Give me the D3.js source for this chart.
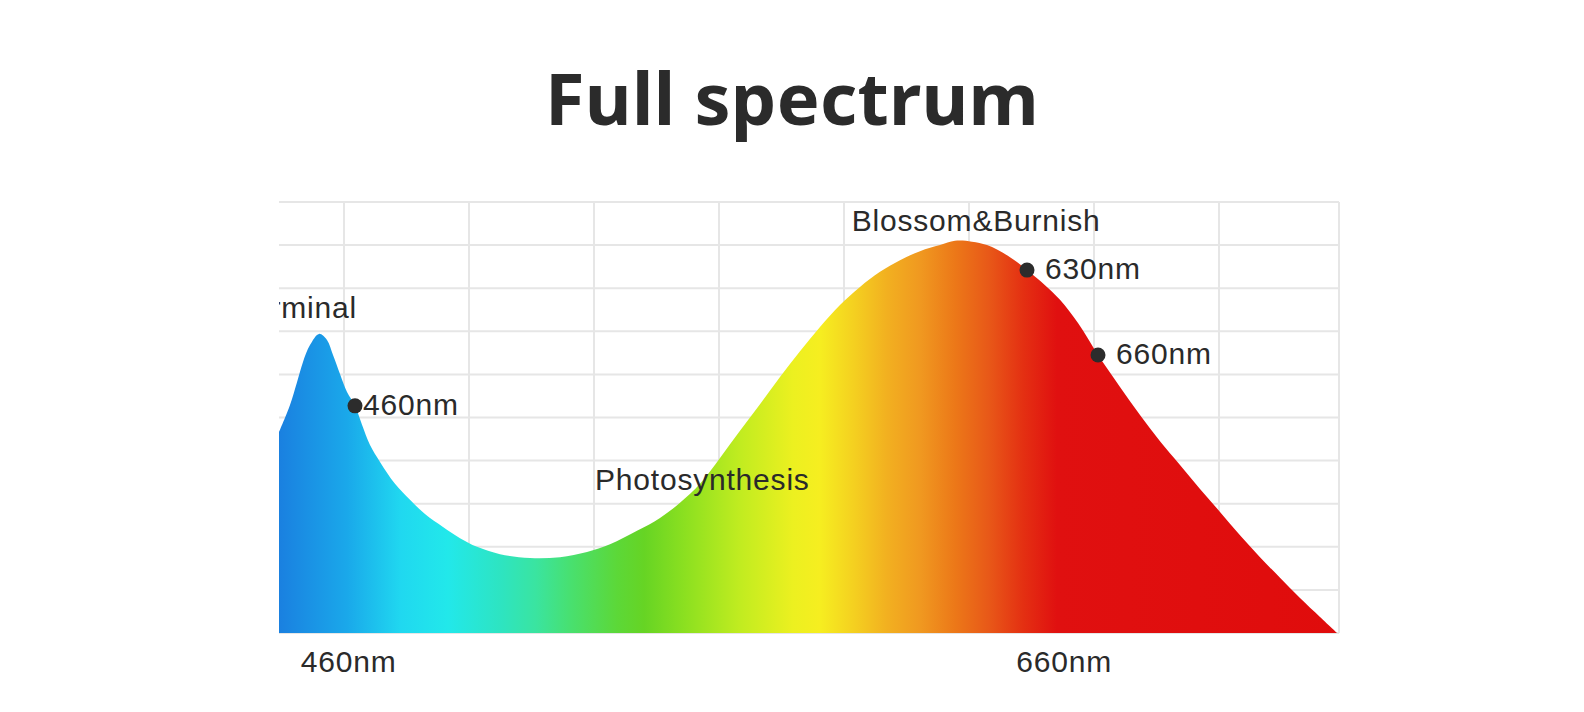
<!DOCTYPE html>
<html>
<head>
<meta charset="utf-8">
<script src="https://cdn.jsdelivr.net/npm/d3@7"></script>
<style>
  html, body { margin: 0; padding: 0; background: #ffffff; }
  svg { display: block; }
</style>
</head>
<body>
<svg id="chart" width="1584" height="712"></svg>
<script>
// ---------------- DATA ----------------
const titleText = "Full spectrum";

// spectrum curve: position along the spectrum axis and relative intensity (0-100)
const xPos = [374, 378.4, 381.2, 383.6, 386.4, 390, 393.2, 395.6, 398.4, 401.2, 404.4, 407.2, 410.4, 414.4,
  420.4, 426.4, 432.4, 439.6, 446.4, 453.2, 462.4, 474.4, 486.4, 497.2, 506.4, 517.2, 526.4, 534.4,
  542.4, 550.4, 558.4, 566.4, 574.4, 582.4, 590.4, 598.4, 606.4, 614.4, 622.4, 630.4, 638.4, 644.4,
  651.2, 657.2, 666.4, 673.2, 680.4, 686.4, 693.6, 701.6, 710.4, 718.4, 726.4, 734.4, 742.4, 750.4,
  758.4, 766.4, 774.4, 782.4, 790.4, 797.2];
const intensity = [46.6, 52.9, 58.2, 62.9, 66.8, 69.4, 68.0, 64.5, 60.1, 55.9, 52.7, 48.3, 43.6, 39.7,
  34.6, 30.9, 27.6, 24.6, 22.0, 20.0, 18.3, 17.4, 17.6, 18.8, 20.6, 23.7, 26.7, 30.2,
  34.6, 40.6, 46.9, 53.1, 59.4, 65.4, 71.0, 76.1, 80.3, 83.8, 86.5, 88.6, 90.0, 91.0,
  90.8, 90.0, 87.2, 84.2, 80.7, 77.3, 71.9, 64.5, 57.1, 50.6, 44.5, 39.0, 33.4, 28.1,
  22.7, 17.6, 12.8, 8.1, 3.7, 0];

// marked points
const markerPos = [404.4, 673.2, 701.6];
const markerVal = [52.7, 84.2, 64.5];
const markerLabels = ["460nm", "630nm", "660nm"];

// region labels
const regionLabels = ["Germinal", "Photosynthesis", "Blossom&Burnish"];
const regionPos = [405.2, 500.4, 603.1];
const regionVal = [73.2, 33.2, 93.3];

// bottom axis labels
const axisLabels = ["460nm", "660nm"];
const axisPos = [382.7, 668.9];

// grid ticks
const xGridTicks = [400, 450, 500, 550, 600, 650, 700, 750, 798];
const yGridTicks = [0, 10, 20, 30, 40, 50, 60, 70, 80, 90, 100];

// colour ramp along the spectrum axis
const rampPos = [374, 401.2, 422.8, 441.6, 463.2, 476.8, 490.4, 509.2, 520, 536.4, 558, 579.6,
  590.4, 604, 617.2, 630.8, 644.4, 658, 671.6, 685.2, 798];
const rampColors = ["#1a80e0", "#1aa8ea", "#20d8f0", "#22e8ea", "#2ee4c0", "#3ae4a0", "#48e070",
  "#5cd838", "#66d424", "#8ce020", "#c0ec20", "#ecf020", "#f6ee20", "#f4d020", "#f2b020", "#f09820",
  "#ec7818", "#e85818", "#e43012", "#e01010", "#e00c0c"];

// ---------------- CHART ----------------
const svg = d3.select("#chart");
const W = 1584, H = 712;
const plot = { left: 279, right: 1339, top: 202, bottom: 633 };

const x = d3.scaleLinear().domain([374, 798]).range([plot.left, plot.right]);
const y = d3.scaleLinear().domain([0, 100]).range([plot.bottom, plot.top]);

const defs = svg.append("defs");
defs.append("clipPath").attr("id", "clipL")
  .append("rect").attr("x", plot.left).attr("y", 0).attr("width", W - plot.left).attr("height", H);

const grad = defs.append("linearGradient")
  .attr("id", "spec").attr("gradientUnits", "userSpaceOnUse")
  .attr("x1", x(374)).attr("x2", x(798)).attr("y1", 0).attr("y2", 0);
rampPos.forEach((p, i) => {
  grad.append("stop")
    .attr("offset", (p - 374) / (798 - 374))
    .attr("stop-color", rampColors[i]);
});

// title
svg.append("text")
  .attr("x", W / 2).attr("y", 125)
  .attr("text-anchor", "middle")
  .style("font-family", "'Noto Sans', 'Open Sans', sans-serif")
  .style("font-weight", 700)
  .style("font-size", "72px")
  .style("letter-spacing", "0.3px")
  .attr("fill", "#2b2b2b")
  .text(titleText);

const g = svg.append("g").attr("clip-path", "url(#clipL)");

// grid
g.append("g").selectAll("line").data(yGridTicks).join("line")
  .attr("x1", plot.left).attr("x2", plot.right)
  .attr("y1", d => y(d)).attr("y2", d => y(d))
  .attr("stroke", "#e6e6e6").attr("stroke-width", 2);
g.append("g").selectAll("line").data(xGridTicks).join("line")
  .attr("x1", d => x(d)).attr("x2", d => x(d))
  .attr("y1", plot.top).attr("y2", plot.bottom)
  .attr("stroke", "#e6e6e6").attr("stroke-width", 2);

// spectrum area
const pts = xPos.map((p, i) => [p, intensity[i]]);
const area = d3.area()
  .x(d => x(d[0]))
  .y0(y(0))
  .y1(d => y(d[1]))
  .curve(d3.curveCatmullRom.alpha(0.5));
g.append("path").datum(pts)
  .attr("d", area)
  .attr("fill", "url(#spec)");

const fontLabel = "'Liberation Sans', Arial, Helvetica, sans-serif";

// markers
markerPos.forEach((p, i) => {
  g.append("circle")
    .attr("cx", x(p)).attr("cy", y(markerVal[i]))
    .attr("r", 7.5).attr("fill", "#2c2c2c");
  g.append("text")
    .attr("x", x(p) + (i === 0 ? 8 : 18)).attr("y", y(markerVal[i]) + 9)
    .style("font-family", fontLabel).style("font-size", "30px").style("letter-spacing", "0.8px")
    .attr("fill", "#2a2a2a")
    .text(markerLabels[i]);
});

// region labels
regionLabels.forEach((t, i) => {
  g.append("text")
    .attr("x", x(regionPos[i])).attr("y", y(regionVal[i]))
    .attr("text-anchor", i === 0 ? "end" : "start")
    .style("font-family", fontLabel).style("font-size", "30px").style("letter-spacing", "0.8px")
    .attr("fill", "#2a2a2a")
    .text(t);
});

// bottom axis labels
axisLabels.forEach((t, i) => {
  g.append("text")
    .attr("x", x(axisPos[i])).attr("y", 672)
    .style("font-family", fontLabel).style("font-size", "30px").style("letter-spacing", "0.8px")
    .attr("fill", "#2a2a2a")
    .text(t);
});
</script>
</body>
</html>
